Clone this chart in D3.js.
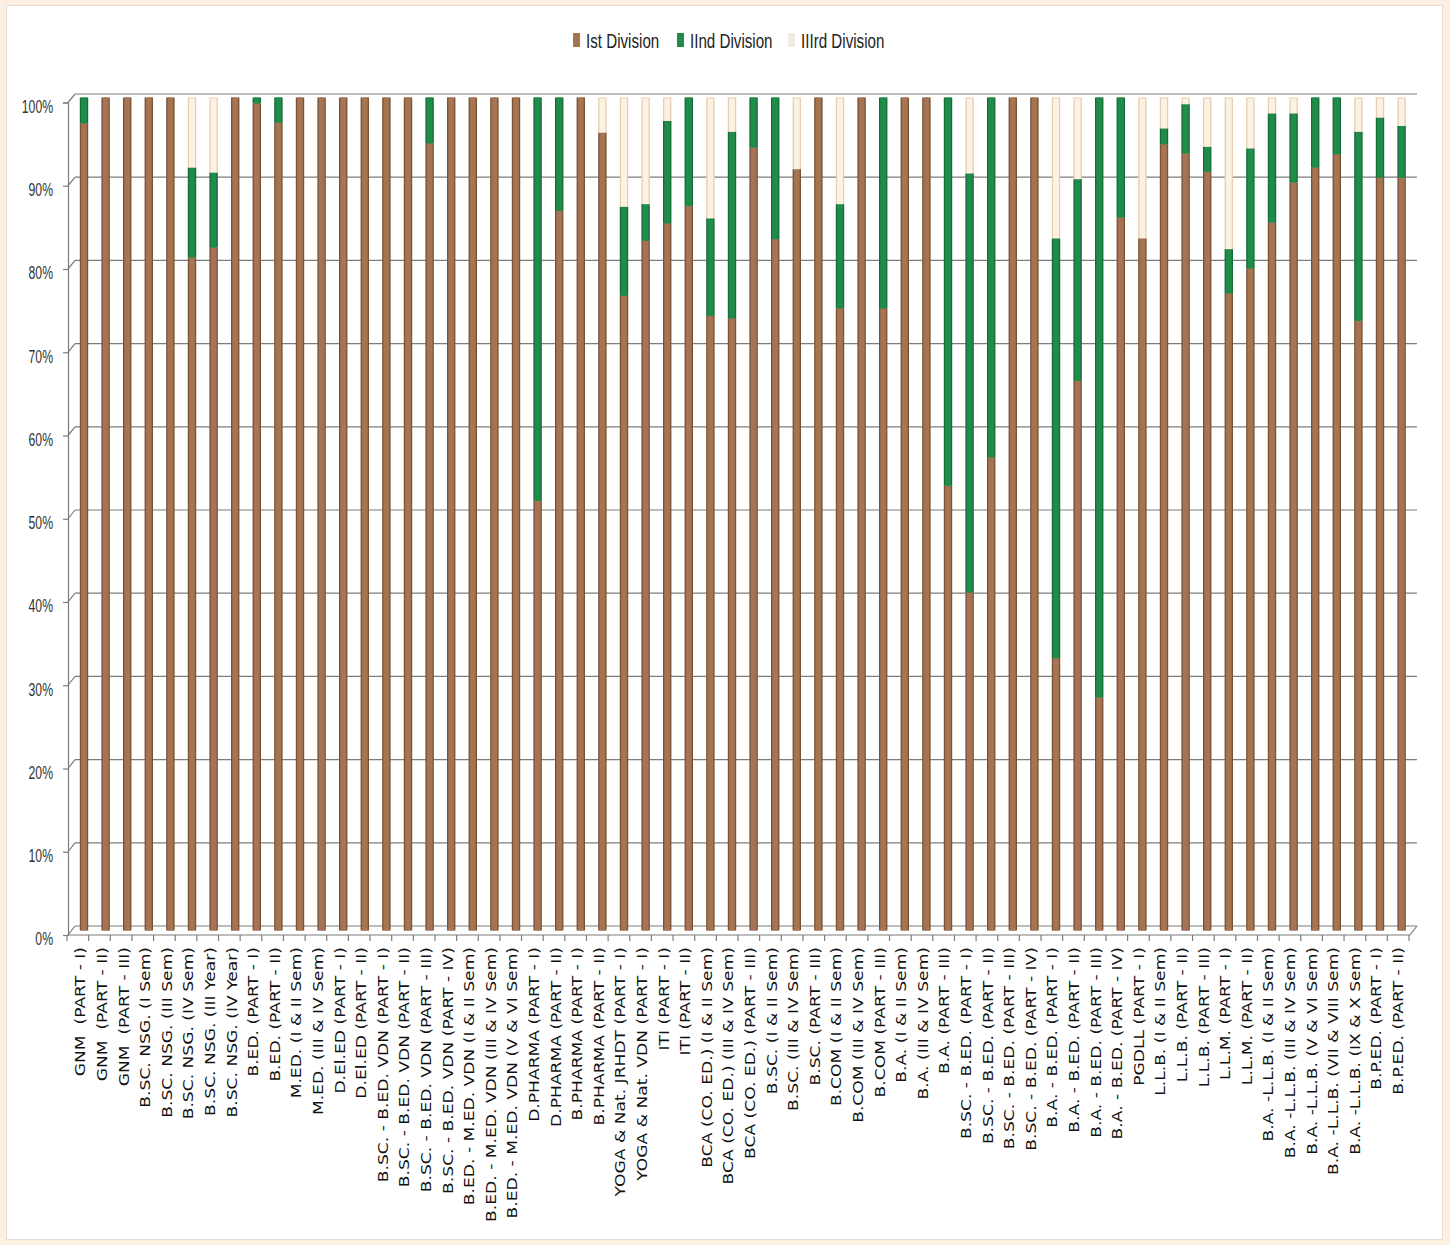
<!DOCTYPE html>
<html>
<head>
<meta charset="utf-8">
<script src="https://d3js.org/d3.v7.min.js"></script>
<style>
  body{margin:0;background:#fdf0e3;}
  svg{display:block;}
  .narrow{font-family:"Liberation Sans",Arial,sans-serif;}
</style>
</head>
<body>
<script>
var categories=["GNM  (PART - I)","GNM  (PART - II)","GNM  (PART - III)","B.SC. NSG. (I Sem)","B.SC. NSG. (III Sem)",
  "B.SC. NSG. (IV Sem)","B.SC. NSG. (III Year)","B.SC. NSG. (IV Year)","B.ED. (PART - I)","B.ED. (PART - II)",
  "M.ED. (I & II Sem)","M.ED. (III & IV Sem)","D.El.ED (PART - I)","D.El.ED (PART - II)","B.SC. - B.ED. VDN (PART - I)",
  "B.SC. - B.ED. VDN (PART - II)","B.SC. - B.ED. VDN (PART - III)","B.SC. - B.ED. VDN (PART - IV)","B.ED. - M.ED. VDN (I & II Sem)",
  "B.ED. - M.ED. VDN (III & IV Sem)","B.ED. - M.ED. VDN (V & VI Sem)","D.PHARMA (PART - I)","D.PHARMA (PART - II)",
  "B.PHARMA (PART - I)","B.PHARMA (PART - II)","YOGA & Nat. JRHDT (PART - I)","YOGA & Nat. VDN (PART - I)","ITI (PART - I)",
  "ITI (PART - II)","BCA (CO. ED.) (I & II Sem)","BCA (CO. ED.) (III & IV Sem)","BCA (CO. ED.) (PART - III)","B.SC. (I & II Sem)",
  "B.SC. (III & IV Sem)","B.SC. (PART - III)","B.COM (I & II Sem)","B.COM (III & IV Sem)","B.COM (PART - III)","B.A. (I & II Sem)",
  "B.A. (III & IV Sem)","B.A. (PART - III)","B.SC. - B.ED. (PART - I)","B.SC. - B.ED. (PART - II)","B.SC. - B.ED. (PART - III)",
  "B.SC. - B.ED. (PART - IV)","B.A. - B.ED. (PART - I)","B.A. - B.ED. (PART - II)","B.A. - B.ED. (PART - III)","B.A. - B.ED. (PART - IV)",
  "PGDLL (PART - I)","L.L.B. (I & II Sem)","L.L.B. (PART - II)","L.L.B. (PART - III)","L.L.M. (PART - I)","L.L.M. (PART - II)",
  "B.A. -L.L.B. (I & II Sem)","B.A. -L.L.B. (III & IV Sem)","B.A. -L.L.B. (V & VI Sem)","B.A. -L.L.B. (VII & VIII Sem)",
  "B.A. -L.L.B. (IX & X Sem)","B.P.ED. (PART - I)","B.P.ED. (PART - II)"];

// percentages
var first =[96.9,100,100,100,100,80.8,82.0,100,99.3,97.0,100,100,100,100,100,100,94.5,100,100,100,100,51.6,86.4,100,95.8,
  76.2,82.8,84.9,87.0,73.8,73.5,94.0,83.0,91.4,100,74.7,100,74.7,100,100,53.4,40.6,56.8,100,100,32.7,66.0,28.0,85.6,83.1,
  94.4,93.3,91.1,76.5,79.5,85.0,89.8,91.6,93.2,73.2,90.4,90.4];
var second=[3.1,0,0,0,0,10.8,9.0,0,0.7,3.0,0,0,0,0,0,0,5.5,0,0,0,0,48.4,13.6,0,0,
  10.7,4.4,12.3,13.0,11.7,22.4,6.0,17.0,0,0,12.5,0,25.3,0,0,46.6,50.3,43.2,0,0,50.4,24.2,72.0,14.4,0,
  1.9,5.9,3.0,5.3,14.4,13.1,8.3,8.4,6.8,22.7,7.2,6.2];
var third =[0,0,0,0,0,8.4,9.0,0,0,0,0,0,0,0,0,0,0,0,0,0,0,0,0,0,4.2,
  13.1,12.8,2.8,0,14.5,4.1,0,0,8.6,0,12.8,0,0,0,0,0,9.1,0,0,0,16.9,9.8,0,0,16.9,
  3.7,0.8,5.9,18.2,6.1,1.9,1.9,0,0,4.1,2.4,3.4];

var seriesNames=["Ist Division","IInd Division","IIIrd Division"];
var seriesKeys=["first","second","third"];
var seriesColors=["#a57452","#1f8c4a","#fcf2e4"];
var edgeColors=["#7a5236","#146c38","#e8cdb0"];
var yTicks=[0,10,20,30,40,50,60,70,80,90,100];

var W=1450,H=1245;
var svg=d3.select('body').append('svg').attr('width',W).attr('height',H);

svg.append('rect').attr('x',6.5).attr('y',5.5).attr('width',1436).attr('height',1234)
   .attr('fill','#fff').attr('stroke','#e6ddd4');

// three planes of the 3d chart: front axis, bar plane, back wall
var yFront=d3.scaleLinear().domain([0,100]).range([935,102.5]);
var yBar=d3.scaleLinear().domain([0,100]).range([930.5,97.5]);
var yBack=d3.scaleLinear().domain([0,100]).range([926,94]);
var xFront=d3.scaleBand().domain(categories).range([67,1409]);
var xBar=d3.scaleBand().domain(categories).range([73.2,1412.4]);
var barW=xBar.bandwidth()*0.39;
var gridCol="#7c7c7c";

var grid=svg.append('g');
grid.selectAll('line.g').data(yTicks).enter().append('line')
    .attr('x1',75).attr('x2',1417)
    .attr('y1',function(d){return yBack(d);}).attr('y2',function(d){return yBack(d);})
    .attr('stroke',gridCol).attr('stroke-width',1.2);
grid.selectAll('line.d').data(yTicks).enter().append('line')
    .attr('x1',68).attr('x2',75)
    .attr('y1',function(d){return yFront(d);}).attr('y2',function(d){return yBack(d);})
    .attr('stroke',gridCol).attr('stroke-width',1.2);
// floor
grid.append('line').attr('x1',68).attr('x2',1410).attr('y1',yFront(0)).attr('y2',yFront(0)).attr('stroke',gridCol).attr('stroke-width',1.2);
grid.append('line').attr('x1',1410).attr('x2',1417).attr('y1',yFront(0)).attr('y2',yBack(0)).attr('stroke',gridCol).attr('stroke-width',1.2);

// y axis on the front plane
var yAxis=svg.append('g').attr('transform','translate(68,0)')
  .call(d3.axisLeft(yFront).tickValues(yTicks).tickSize(5).tickPadding(17).tickFormat(function(d){return d+'%';}));
yAxis.select('.domain').attr('stroke',gridCol).attr('stroke-width',1.2);
yAxis.selectAll('.tick line').attr('stroke',gridCol).attr('stroke-width',1.2);
yAxis.selectAll('.tick text').attr('class','narrow').attr('font-size',18).attr('fill','#333')
     .attr('dy','0.55em').attr('transform','scale(0.68,1)');

// category ticks on the front floor edge
svg.append('g').selectAll('line').data(categories.concat(['_end'])).enter().append('line')
   .attr('x1',function(d,i){return xFront.range()[0]+i*xFront.step();})
   .attr('x2',function(d,i){return xFront.range()[0]+i*xFront.step();})
   .attr('y1',yFront(0)).attr('y2',yFront(0)+6)
   .attr('stroke',gridCol).attr('stroke-width',1.2);

// stacked bars
var rows=categories.map(function(c,i){return {cat:c,first:first[i],second:second[i],third:third[i]};});
var stacked=d3.stack().keys(seriesKeys)(rows);

var layers=svg.append('g').selectAll('g').data(stacked).enter().append('g');
layers.each(function(layer,li){
  var segs=layer.filter(function(s){return s[1]-s[0]>0;});
  var g=d3.select(this);
  g.selectAll('rect.edge').data(segs).enter().append('rect')
   .attr('x',function(s){return xBar(s.data.cat)+xBar.bandwidth()/2-barW/2;})
   .attr('width',barW)
   .attr('y',function(s){return yBar(s[1]);})
   .attr('height',function(s){return yBar(s[0])-yBar(s[1]);})
   .attr('fill',edgeColors[li]);
  g.selectAll('rect.face').data(segs).enter().append('rect')
   .attr('x',function(s){return xBar(s.data.cat)+xBar.bandwidth()/2-barW/2+1.3;})
   .attr('width',barW-2.6)
   .attr('y',function(s){return yBar(s[1])+(li==2?1:0);})
   .attr('height',function(s){return yBar(s[0])-yBar(s[1])-(li==2?1:0);})
   .attr('fill',seriesColors[li]);
});

// category labels
svg.append('g').selectAll('text').data(categories).enter().append('text')
   .attr('transform',function(d){return 'translate('+(xBar(d)+xBar.bandwidth()/2-3.5)+',947) rotate(-90) scale(1.25,1)';})
   .attr('text-anchor','end').attr('dy','0.36em')
   .style('white-space','pre')
   .attr('font-family','"DejaVu Sans",Verdana,sans-serif').attr('font-size',13.7).attr('fill','#111')
   .text(function(d){return d;});

// legend
var legX=[573,677,788];
var leg=svg.append('g').selectAll('g').data(seriesNames).enter().append('g')
   .attr('transform',function(d,i){return 'translate('+legX[i]+',33)';});
leg.append('rect').attr('width',7).attr('height',14)
   .attr('fill',function(d,i){return i==2?'#f1ebe4':seriesColors[i];});
leg.append('g').attr('transform','translate(13,14.5) scale(0.74,1)')
   .append('text').attr('class','narrow').attr('font-size',20.5).attr('fill','#222')
   .text(function(d){return d;});
</script>
</body>
</html>
